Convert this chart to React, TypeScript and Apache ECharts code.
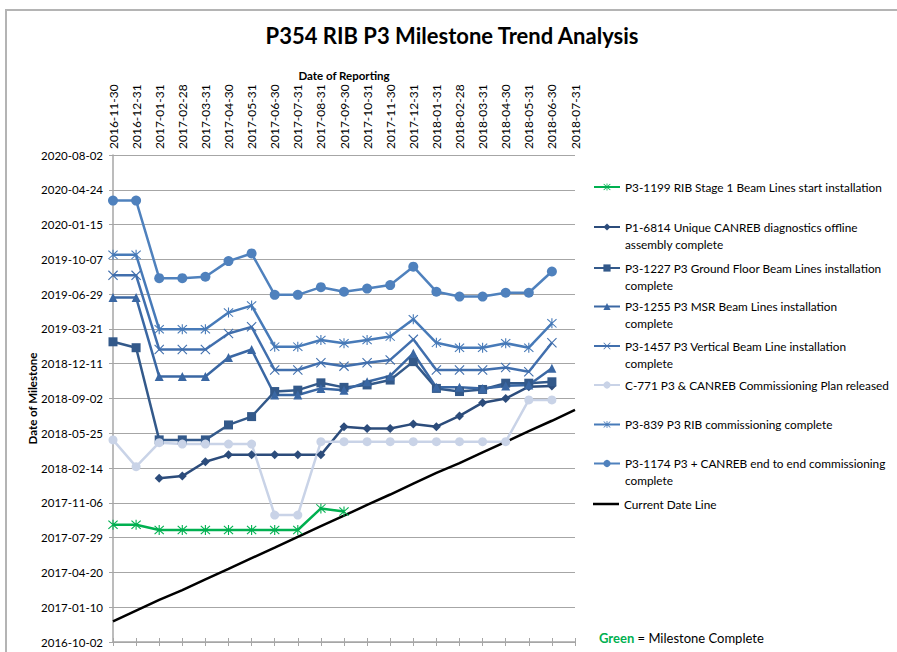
import React, { useEffect, useRef } from "react";
import * as echarts from "echarts";

// ---------- data ----------
const reportingDates = [
  "2016-11-30", "2016-12-31", "2017-01-31", "2017-02-28", "2017-03-31", "2017-04-30",
  "2017-05-31", "2017-06-30", "2017-07-31", "2017-08-31", "2017-09-30", "2017-10-31",
  "2017-11-30", "2017-12-31", "2018-01-31", "2018-02-28", "2018-03-31", "2018-04-30",
  "2018-05-31", "2018-06-30", "2018-07-31",
];

const p3_1199 = [
  "2017-09-04", "2017-09-04", "2017-08-20", "2017-08-20", "2017-08-20", "2017-08-20",
  "2017-08-20", "2017-08-20", "2017-08-20", "2017-10-21", "2017-10-12", null,
  null, null, null, null, null, null, null, null, null,
];

const p1_6814 = [
  null, null, "2018-01-16", "2018-01-22", "2018-03-04", "2018-03-24",
  "2018-03-24", "2018-03-24", "2018-03-24", "2018-03-24", "2018-06-13", "2018-06-08",
  "2018-06-08", "2018-06-21", "2018-06-13", "2018-07-14", "2018-08-21", "2018-09-02",
  "2018-10-06", "2018-10-08", null,
];

const p3_1227 = [
  "2019-02-12", "2019-01-26", "2018-05-06", "2018-05-06", "2018-05-06", "2018-06-18",
  "2018-07-12", "2018-09-22", "2018-09-26", "2018-10-17", "2018-10-04", "2018-10-11",
  "2018-10-25", "2018-12-17", "2018-10-01", "2018-09-22", "2018-09-28", "2018-10-16",
  "2018-10-16", "2018-10-20", null,
];

const p3_1255 = [
  "2019-06-19", "2019-06-19", "2018-11-04", "2018-11-04", "2018-11-04", "2018-12-29",
  "2019-01-21", "2018-09-12", "2018-09-12", "2018-10-01", "2018-09-26", "2018-10-20",
  "2018-11-06", "2019-01-10", "2018-10-04", "2018-10-04", "2018-10-01", "2018-10-08",
  "2018-10-11", "2018-11-28", null,
];

const p3_1457 = [
  "2019-08-22", "2019-08-22", "2019-01-21", "2019-01-21", "2019-01-21", "2019-03-08",
  "2019-03-27", "2018-11-23", "2018-11-23", "2018-12-14", "2018-12-04", "2018-12-14",
  "2018-12-22", "2019-02-19", "2018-11-23", "2018-11-23", "2018-11-23", "2018-11-30",
  "2018-11-18", "2019-02-09", null,
];

const c_771 = [
  "2018-05-06", "2018-02-18", "2018-04-28", "2018-04-24", "2018-04-24", "2018-04-24",
  "2018-04-24", "2017-10-02", "2017-10-02", "2018-05-01", "2018-05-01", "2018-05-01",
  "2018-05-01", "2018-05-01", "2018-05-01", "2018-05-01", "2018-05-01", "2018-05-01",
  "2018-08-29", "2018-08-29", null,
];

const p3_839 = [
  "2019-10-20", "2019-10-20", "2019-03-20", "2019-03-20", "2019-03-20", "2019-05-07",
  "2019-05-27", "2019-01-29", "2019-01-29", "2019-02-17", "2019-02-08", "2019-02-17",
  "2019-02-27", "2019-04-18", "2019-02-09", "2019-01-26", "2019-01-26", "2019-02-08",
  "2019-01-26", "2019-04-06", null,
];

const p3_1174 = [
  "2020-03-24", "2020-03-24", "2019-08-14", "2019-08-14", "2019-08-18", "2019-10-02",
  "2019-10-24", "2019-06-27", "2019-06-27", "2019-07-19", "2019-07-06", "2019-07-15",
  "2019-07-25", "2019-09-16", "2019-07-06", "2019-06-22", "2019-06-22", "2019-07-03",
  "2019-07-03", "2019-09-02", null,
];

const currentDateLine = [
  "2016-11-30", "2016-12-31", "2017-01-31", "2017-02-28", "2017-03-31", "2017-04-30",
  "2017-05-31", "2017-06-30", "2017-07-31", "2017-08-31", "2017-09-30", "2017-10-31",
  "2017-11-30", "2017-12-31", "2018-01-31", "2018-02-28", "2018-03-31", "2018-04-30",
  "2018-05-31", "2018-06-30", "2018-07-31",
];

// y axis: first tick label, step (days) and number of steps
const yAxisStart = "2016-10-02";
const yAxisStepDays = 100;
const yAxisSteps = 14;

const legendNames = [
  "P3-1199 RIB Stage 1 Beam Lines start installation",
  "P1-6814 Unique CANREB diagnostics offline assembly complete",
  "P3-1227 P3 Ground Floor Beam Lines installation complete",
  "P3-1255 P3 MSR Beam Lines installation complete",
  "P3-1457 P3 Vertical Beam Line installation complete",
  "C-771 P3 & CANREB Commissioning Plan released",
  "P3-839 P3 RIB commissioning complete",
  "P3-1174 P3 + CANREB end to end commissioning complete",
  "Current Date Line",
];

// ---------- helpers ----------
const BASE = Date.parse(yAxisStart + "T00:00:00Z");
const DAY = 86400000;
const toDays = (s: string | null) =>
  s == null ? null : Math.round((Date.parse(s + "T00:00:00Z") - BASE) / DAY);
const fmtDay = (v: number) => new Date(BASE + v * DAY).toISOString().slice(0, 10);

const ASTERISK =
  "path://M9,0L11,0L11,20L9,20Z M2.4,1L19,17.6L17.6,19L1,2.4Z M17.6,1L19,2.4L2.4,19L1,17.6Z";
const CROSS = "path://M2.4,1L19,17.6L17.6,19L1,2.4Z M17.6,1L19,2.4L2.4,19L1,17.6Z";
const LINE_ICON = "path://M0,0L26,0L26,2.5L0,2.5Z";

const FONT = "Lato, 'Noto Sans', sans-serif";

export default function App() {
  const ref = useRef<HTMLDivElement>(null);

  useEffect(() => {
    if (!ref.current) return;
    const chart = echarts.init(ref.current, undefined, { renderer: "svg" });

    const mk = (
      name: string,
      data: (string | null)[],
      color: string,
      symbol: string,
      symbolSize: number
    ) => ({
      name,
      type: "line",
      data: data.map(toDays),
      symbol: symbol,
      symbolSize,
      showSymbol: symbol !== "none",
      connectNulls: false,
      itemStyle: { color },
      lineStyle: { color, width: 2.5 },
      emphasis: { disabled: true },
    });

    const series = [
      mk(legendNames[0], p3_1199, "#00B050", ASTERISK, 10),
      mk(legendNames[1], p1_6814, "#2C4C7B", "diamond", 9),
      mk(legendNames[2], p3_1227, "#33598A", "rect", 9),
      mk(legendNames[3], p3_1255, "#3A67A3", "triangle", 9),
      mk(legendNames[4], p3_1457, "#416FAD", CROSS, 10),
      mk(legendNames[5], c_771, "#C9D3E7", "circle", 9),
      mk(legendNames[6], p3_839, "#477AB8", ASTERISK, 10),
      mk(legendNames[7], p3_1174, "#4F81BD", "circle", 10),
      mk(legendNames[8], currentDateLine, "#000000", "none", 0),
    ];

    // legend layout: each item in its own legend so spacing matches
    const legendCenters = [187, 227, 268, 306.5, 346, 385, 424.5, 463.5, 504];
    const wrapAt: Record<string, number> = {
      [legendNames[1]]: "P1-6814 Unique CANREB diagnostics offline".length,
      [legendNames[2]]: "P3-1227 P3 Ground Floor Beam Lines installation".length,
      [legendNames[3]]: "P3-1255 P3 MSR Beam Lines installation".length,
      [legendNames[4]]: "P3-1457 P3 Vertical Beam Line installation".length,
      [legendNames[7]]: "P3-1174 P3 + CANREB end to end commissioning".length,
    };
    const LH = 17;
    const legends = legendNames.map((n, i) => {
      const cut = wrapAt[n];
      const twoLine = cut !== undefined;
      const isLineOnly = i === legendNames.length - 1;
      return {
        data: [isLineOnly ? { name: n, icon: LINE_ICON } : n],
        left: 593,
        top: legendCenters[i] - (twoLine ? LH * 1.5 : LH * 0.5),
        padding: 0,
        itemWidth: 26,
        itemHeight: 9,
        selectedMode: false,
        formatter: (name: string) =>
          twoLine ? " \n" + name.slice(0, cut) + "\n" + name.slice(cut + 1) : name,
        textStyle: { fontFamily: FONT, fontSize: 11.8, color: "#000", lineHeight: LH },
      };
    });

    const option = {
      animation: false,
      backgroundColor: "#fff",
      grid: { left: 113, right: 322, top: 155, bottom: 10, containLabel: false },
      legend: legends,
      xAxis: [
        {
          type: "category",
          data: reportingDates,
          position: "top",
          boundaryGap: false,
          name: "Date of Reporting",
          nameLocation: "middle",
          nameGap: 74,
          nameMoveOverlap: false,
          nameTextStyle: { fontFamily: FONT, fontSize: 11.5, fontWeight: "bold", color: "#000" },
          axisLine: { show: true, lineStyle: { color: "#A6A6A6", width: 1.5 } },
          axisTick: { show: true, alignWithLabel: true, length: 4, lineStyle: { color: "#A6A6A6" } },
          axisLabel: {
            rotate: 90,
            margin: 6,
            interval: 0,
            fontFamily: FONT,
            fontSize: 12,
            color: "#000",
          },
          splitLine: { show: false },
        },
        {
          type: "category",
          data: reportingDates,
          position: "top",
          boundaryGap: false,
          axisLine: { show: false },
          axisTick: { show: true, inside: true, interval: 0, length: 4, lineStyle: { color: "#A6A6A6" } },
          axisLabel: { show: false },
          splitLine: { show: false },
        },
      ],
      yAxis: [
        {
          type: "value",
          min: 0,
          max: yAxisStepDays * yAxisSteps,
          interval: yAxisStepDays,
          name: "Date of Milestone",
          nameLocation: "middle",
          nameRotate: 90,
          nameGap: 75,
          nameMoveOverlap: false,
          nameTextStyle: { fontFamily: FONT, fontSize: 11.5, fontWeight: "bold", color: "#000" },
          axisLine: { show: true, lineStyle: { color: "#A6A6A6", width: 1.5 } },
          axisTick: { show: true, length: 4, lineStyle: { color: "#A6A6A6" } },
          axisLabel: {
            margin: 10,
            fontFamily: FONT,
            fontSize: 11.5,
            color: "#000",
            formatter: (v: number) => fmtDay(v),
          },
          splitLine: { show: true, lineStyle: { color: "#A6A6A6", width: 1.2 } },
        },
        {
          type: "value",
          min: 0,
          max: yAxisStepDays * yAxisSteps,
          interval: yAxisStepDays,
          position: "left",
          axisLine: { show: false },
          axisTick: { show: true, inside: true, length: 4, lineStyle: { color: "#A6A6A6" } },
          axisLabel: { show: false },
          splitLine: { show: false },
        },
      ],
      series,
      graphic: [
        {
          type: "rect",
          shape: { x: 6, y: 10, width: 1000, height: 1000 },
          style: { fill: "none", stroke: "#B4B4B4", lineWidth: 2 },
          silent: true,
        },
        {
          type: "text",
          x: 452,
          y: 35,
          style: {
            text: "P354 RIB P3 Milestone Trend Analysis",
            textAlign: "center",
            textVerticalAlign: "middle",
            fontFamily: FONT,
            fontSize: 22,
            fontWeight: "bold",
            fill: "#000",
          },
        },
        {
          type: "text",
          x: 599,
          y: 638,
          style: {
            text: "{g|Green} = Milestone Complete",
            textVerticalAlign: "middle",
            fontFamily: FONT,
            fontSize: 13,
            fill: "#000",
            rich: {
              g: { fill: "#00B050", fontWeight: "bold", fontFamily: FONT, fontSize: 13 },
            },
          },
        },
      ],
    };

    chart.setOption(option as any);
    return () => chart.dispose();
  }, []);

  return (
    <div
      ref={ref}
      style={{ position: "fixed", left: 0, top: 0, width: 897, height: 652, background: "#fff" }}
    />
  );
}
